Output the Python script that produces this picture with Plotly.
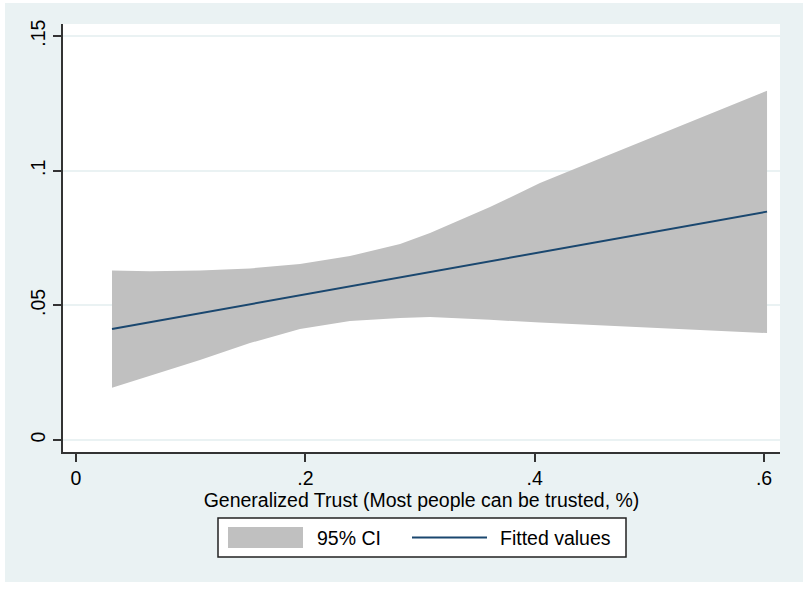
import plotly.graph_objects as go

# Data
ci_x = [0.0314, 0.0645, 0.1081, 0.1517, 0.1953, 0.2389, 0.2826, 0.3087,
        0.3610, 0.4046, 0.4570, 0.5006, 0.5442, 0.6026]
ci_upper = [0.0629, 0.0627, 0.0629, 0.0637, 0.0653, 0.0683, 0.0728, 0.0769,
            0.0865, 0.0954, 0.1045, 0.1121, 0.1196, 0.1297]
ci_lower = [0.0194, 0.0238, 0.0297, 0.0360, 0.0412, 0.0442, 0.0453, 0.0457,
            0.0446, 0.0436, 0.0427, 0.0418, 0.0408, 0.0397]
fit_x = [0.0314, 0.6026]
fit_y = [0.0412, 0.0848]

x_ticks = [0, 0.2, 0.4, 0.6]
x_tick_labels = ["0", ".2", ".4", ".6"]
y_ticks = [0, 0.05, 0.1, 0.15]
y_tick_labels = ["0", ".05", ".1", ".15"]

x_title = "Generalized Trust (Most people can be trusted, %)"
legend_labels = ["95% CI", "Fitted values"]

BG = "#EAF2F3"
GREY = "#C0C0C0"
NAVY = "#1A476F"
FONT = "Liberation Sans, Arial, sans-serif"
FS = 19.5

W, H = 803, 589
L, R, T, B = 63, 23, 24, 137
pw, ph = W - L - R, H - T - B


def px(xp):
    return (xp - L) / pw


def py(yp):
    return (H - B - yp) / ph


fig = go.Figure()
fig.add_trace(go.Scatter(
    x=ci_x + ci_x[::-1], y=ci_upper + ci_lower[::-1],
    fill="toself", fillcolor=GREY, line=dict(width=0, color=GREY),
    mode="lines", name=legend_labels[0], hoverinfo="skip"))
fig.add_trace(go.Scatter(
    x=fit_x, y=fit_y, mode="lines", line=dict(color=NAVY, width=2),
    name=legend_labels[1]))

shapes = [
    # outer light background (white thin border around it)
    dict(type="rect", xref="paper", yref="paper", layer="below",
         x0=px(5), x1=px(W + 5), y0=py(582), y1=py(3),
         fillcolor=BG, line=dict(width=0)),
    # white plot region
    dict(type="rect", xref="paper", yref="paper", layer="below",
         x0=0, x1=1, y0=0, y1=1, fillcolor="white", line=dict(width=0)),
    # legend box
    dict(type="rect", xref="paper", yref="paper",
         x0=px(218), x1=px(626), y0=py(557), y1=py(518),
         fillcolor="white", line=dict(color="#222222", width=1.5)),
    # legend grey swatch
    dict(type="rect", xref="paper", yref="paper",
         x0=px(228), x1=px(303), y0=py(548), y1=py(527),
         fillcolor=GREY, line=dict(width=0)),
    # legend line swatch
    dict(type="line", xref="paper", yref="paper",
         x0=px(412), x1=px(487), y0=py(537.5), y1=py(537.5),
         line=dict(color=NAVY, width=2)),
]

annotations = [
    dict(text=legend_labels[0], xref="paper", yref="paper", x=px(315),
         y=py(537.5), xanchor="left", yanchor="middle", showarrow=False,
         font=dict(family=FONT, size=FS, color="black")),
    dict(text=legend_labels[1], xref="paper", yref="paper", x=px(498),
         y=py(537.5), xanchor="left", yanchor="middle", showarrow=False,
         font=dict(family=FONT, size=FS, color="black")),
]

fig.update_layout(
    width=W, height=H,
    margin=dict(l=L, r=R, t=T, b=B, pad=0),
    paper_bgcolor="white", plot_bgcolor="white",
    showlegend=False,
    shapes=shapes, annotations=annotations,
    font=dict(family=FONT, size=FS, color="black"),
    xaxis=dict(
        range=[-0.01134, 0.6139], tickvals=x_ticks, ticktext=x_tick_labels,
        showgrid=False, zeroline=False, showline=True, linecolor="#333333",
        linewidth=1.5, ticks="outside", ticklen=8, tickwidth=1.5,
        tickcolor="#333333", tickfont=dict(family=FONT, size=FS),
        title=dict(text=x_title, font=dict(family=FONT, size=FS), standoff=0),
    ),
    yaxis=dict(
        range=[-0.00446, 0.15446], tickvals=y_ticks, ticktext=y_tick_labels,
        showgrid=True, gridcolor=BG, gridwidth=1.5, zeroline=False,
        showline=True, linecolor="#333333", linewidth=1.5, ticks="outside",
        ticklen=8, tickwidth=1.5, tickcolor="#333333", tickangle=-90,
        tickfont=dict(family=FONT, size=FS),
    ),
)

fig.write_html(
    "out.html",
    config={"displayModeBar": False},
    post_script="document.body.style.margin='0';document.body.style.overflow='hidden';",
)
